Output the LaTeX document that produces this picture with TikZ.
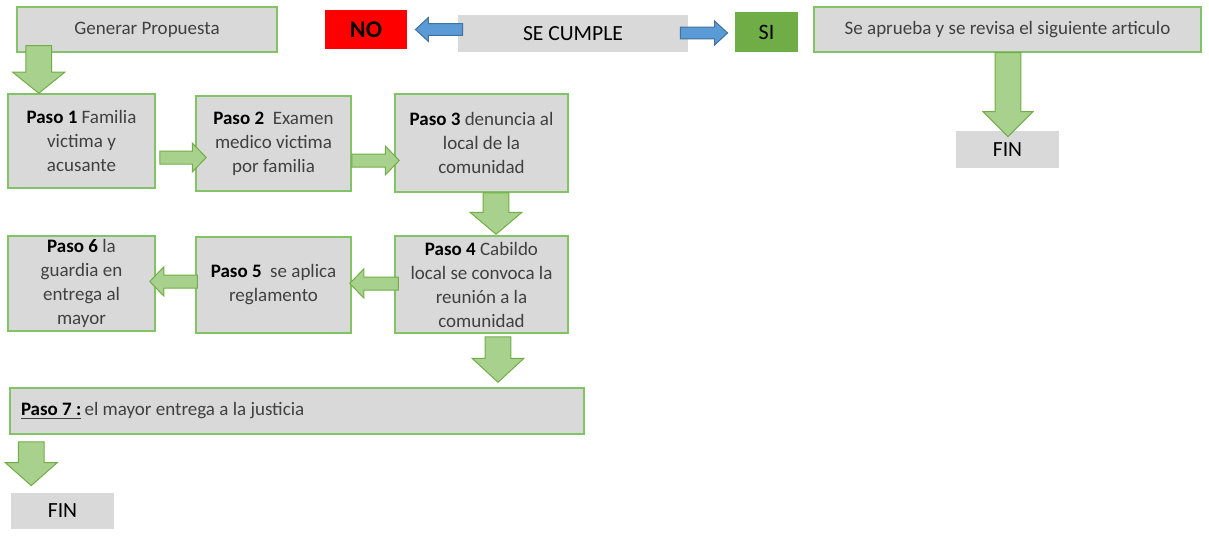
\documentclass[tikz,border=0pt]{standalone}
\usepackage{fontspec}
\setmainfont{Carlito}
\usepackage{xcolor}
\usepackage{tikz}
\usetikzlibrary{calc}
\definecolor{boxfill}{HTML}{D9D9D9}
\definecolor{boxline}{HTML}{82C465}
\definecolor{txt}{HTML}{404040}
\definecolor{arrfill}{HTML}{A9D18E}
\definecolor{arrline}{HTML}{70AD47}
\definecolor{bluefill}{HTML}{5B9BD5}
\definecolor{blueline}{HTML}{41719C}
\definecolor{sigreen}{HTML}{70AD47}
\newcommand{\paso}[1]{{\color{black}\bfseries Paso~#1}}
\newcommand{\blockarrow}[6][garrow]{%
\coordinate (ba-c) at ($(#3)!#6!(#2)$);
\path[#1] ($(#2)!#4!90:(#3)$) -- ($(ba-c)!#4!90:(#3)$) -- ($(ba-c)!#5!90:(#3)$) -- (#3) -- ($(ba-c)!#5!-90:(#3)$) -- ($(ba-c)!#4!-90:(#3)$) -- ($(#2)!#4!-90:(#3)$) -- cycle;}
\begin{document}
\begin{tikzpicture}[x=0.5pt,y=-0.5pt,
box/.style={draw=boxline,line width=0.75pt,fill=boxfill,inner sep=0pt,text=txt,align=center,font=\fontsize{9.5}{12}\selectfont},
flat/.style={fill=boxfill,inner sep=0pt,font=\fontsize{10.8}{13}\selectfont},
garrow/.style={draw=arrline,fill=arrfill,line width=0.5pt,line join=miter},
barrow/.style={draw=blueline,fill=bluefill,line width=0.5pt,line join=miter}]
\useasboundingbox (0,0) rectangle (1209,540);
\node[box,minimum width=130pt,minimum height=22.5pt] (gen) at (147,29.5) {Generar Propuesta};
\node[fill=red,inner sep=0pt,minimum width=41pt,minimum height=19.5pt,font=\fontsize{12}{14}\selectfont\bfseries] (no) at (366,29.5) {NO};
\node[flat,minimum width=115pt,minimum height=18.5pt] (cumple) at (573,33.5) {SE CUMPLE};
\node[fill=sigreen,inner sep=0pt,minimum width=31.5pt,minimum height=20pt,font=\fontsize{11}{13}\selectfont] (si) at (766.5,32) {SI};
\node[box,minimum width=193.5pt,minimum height=22.5pt] (aprueba) at (1007.5,29.5) {Se aprueba y se revisa el siguiente articulo};
\node[flat,minimum width=51.5pt,minimum height=18.5pt] (fin1) at (1007.5,149.5) {FIN};
\node[box,minimum width=73.5pt,minimum height=47pt] (p1) at (81.5,141) {\paso{1} Familia\\victima y\\acusante};
\node[box,minimum width=77.5pt,minimum height=47.5pt] (p2) at (273.5,143.5) {\paso{2}\ \ Examen\\medico victima\\por familia};
\node[box,minimum width=86.5pt,minimum height=49pt] (p3) at (481.5,143) {\paso{3} denuncia al\\local de la\\comunidad};
\node[box,minimum width=86.5pt,minimum height=48.5pt] (p4) at (481.5,284.5) {\paso{4} Cabildo\\local se convoca la\\reunión a la\\comunidad};
\node[box,minimum width=77.5pt,minimum height=48pt] (p5) at (273.5,285) {\paso{5}\ \ se aplica\\reglamento};
\node[box,minimum width=73.5pt,minimum height=47.5pt] (p6) at (81.5,283.5) {\paso{6} la\\guardia en\\entrega al\\mayor};
\node[box,minimum height=23pt,text width=276pt,inner xsep=5.5pt,align=flush left] (p7) at (297,411) {\underline{\paso{7\ :}}\,el mayor entrega a la justicia};
\node[flat,minimum width=51.5pt,minimum height=18pt] (fin2) at (62.5,511) {FIN};
\coordinate (sg1) at ($(gen.south west)+(22.5,-7)$);
\coordinate (eg1) at (sg1 |- p1.north);
\coordinate (s12) at ($(p1.east)+(4,16.5)$);
\coordinate (e12) at ($(p2.west |- s12)+(11,0)$);
\coordinate (s23) at ($(p2.east)+(0,17)$);
\coordinate (e23) at ($(p3.west |- s23)+(5,0)$);
\coordinate (s34) at ($(p3.south)+(14.5,0)$);
\coordinate (e34) at ($(s34 |- p4.north)+(0,-1)$);
\coordinate (s45) at ($(p4.west)+(4,-1)$);
\coordinate (e45) at ($(p5.east |- s45)+(-2,0)$);
\coordinate (s56) at ($(p5.west)+(2,-3.5)$);
\coordinate (e56) at ($(p6.east |- s56)+(-6,0)$);
\coordinate (s47) at ($(p4.south)+(16.5,3)$);
\coordinate (e47) at ($(s47 |- p7.north)+(0,-5)$);
\coordinate (s7f) at ($(p7.south west)+(22,7)$);
\coordinate (e7f) at ($(s7f |- fin2.north)+(0,-7)$);
\coordinate (saf) at ($(aprueba.south)+(0.5,0)$);
\coordinate (eaf) at ($(saf |- fin1.north)+(0,6)$);
\coordinate (scn) at ($(cumple.west)+(5,-4)$);
\coordinate (ecn) at ($(no.east |- scn)+(8,0)$);
\coordinate (scs) at ($(cumple.east)+(-8,-0.5)$);
\coordinate (ecs) at ($(si.west |- scs)+(-7,0)$);
\blockarrow{sg1}{eg1}{6.4pt}{13pt}{10.5pt}
\blockarrow{s34}{e34}{6.4pt}{13pt}{11pt}
\blockarrow{s47}{e47}{6.4pt}{13pt}{12pt}
\blockarrow{s7f}{e7f}{6.4pt}{13pt}{11.5pt}
\blockarrow{saf}{eaf}{6.4pt}{12.5pt}{12.5pt}
\blockarrow{s12}{e12}{3.25pt}{7.25pt}{7pt}
\blockarrow{s23}{e23}{3.25pt}{7.25pt}{7pt}
\blockarrow{s45}{e45}{3.25pt}{7.25pt}{7pt}
\blockarrow{s56}{e56}{3.25pt}{7.25pt}{7pt}
\blockarrow[barrow]{scn}{ecn}{2.9pt}{6pt}{6.5pt}
\blockarrow[barrow]{scs}{ecs}{2.9pt}{6pt}{6.5pt}
\end{tikzpicture}
\end{document}
